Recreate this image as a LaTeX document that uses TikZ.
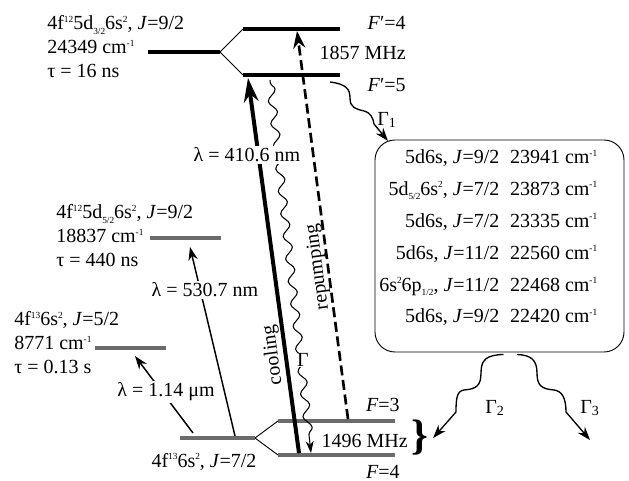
\documentclass[tikz,border=0pt]{standalone}
\usepackage{fontspec}
\setmainfont{Liberation Serif}
\usepackage{xcolor}
\usepackage{tikz}
\usetikzlibrary{positioning,arrows.meta,decorations.pathmorphing}

\definecolor{levelgray}{gray}{0.42}
\newcommand{\upi}[1]{\raisebox{0.85ex}{\fontsize{7}{7}\selectfont #1}}
\newcommand{\dni}[1]{\raisebox{-0.45ex}{\fontsize{7}{7}\selectfont #1}}

\begin{document}
\begin{tikzpicture}[
  x=0.75pt, y=-0.75pt,
  font=\fontsize{15}{18}\selectfont,
  blacklevel/.style={line width=3pt},
  graylevel/.style={line width=2.4pt, levelgray},
  split/.style={line width=0.7pt},
  levellabel/.style={anchor=west, align=left, inner sep=0pt},
  flabel/.style={anchor=east, inner sep=0pt},
  laser/.style={line width=1.1pt, -{Stealth[length=10pt,width=7pt]}},
  decay/.style={line width=1pt, -{Stealth[length=10pt,width=7pt]}},
  onarrow/.style={fill=white, inner sep=1.5pt},
  statebox/.style={draw, rounded corners=15pt, line width=0.7pt, minimum width=186.75pt, minimum height=159pt, inner sep=0pt}
  ]
  \useasboundingbox (0,0) rectangle (629,481);
  % levels
  \coordinate (e-l) at (148,52);   \coordinate (e-r) at (220,52);
  \coordinate (f4u-l) at (243,29); \coordinate (f4u-r) at (340,29);
  \coordinate (f5u-l) at (243,75); \coordinate (f5u-r) at (340,75);
  \coordinate (m-l) at (150,238);  \coordinate (m-r) at (221,238);
  \coordinate (c-l) at (95,348);   \coordinate (c-r) at (166,348);
  \coordinate (g-l) at (180,438);  \coordinate (g-r) at (255,438);
  \coordinate (f3-l) at (278,421); \coordinate (f3-r) at (395,421);
  \coordinate (f4-l) at (278,455); \coordinate (f4-r) at (395,455);
  \draw[blacklevel] (e-l) -- (e-r);
  \draw[split] (e-r) -- (f4u-l) (e-r) -- (f5u-l);
  \draw[blacklevel] (f4u-l) -- (f4u-r);
  \draw[blacklevel] (f5u-l) -- (f5u-r);
  \draw[graylevel] (m-l) -- (m-r);
  \draw[graylevel] (c-l) -- (c-r);
  \draw[graylevel] (g-l) -- (g-r);
  \draw[split] (g-r) -- (f3-l) (g-r) -- (f4-l);
  \draw[graylevel] (f3-l) -- (f3-r);
  \draw[graylevel] (f4-l) -- (f4-r);

  \node[levellabel] (exc-lab) at (47,47) {4f\upi{12}5d\dni{3/2}6s\upi{2}, \textit{J}=9/2\\24349 cm\upi{-1}\\τ = 16 ns};
  \node[levellabel] (mid-lab) at (56,236) {4f\upi{12}5d\dni{5/2}6s\upi{2}, \textit{J}=9/2\\18837 cm\upi{-1}\\τ = 440 ns};
  \node[levellabel] (clk-lab) at (14,343) {4f\upi{13}6s\upi{2}, \textit{J}=5/2\\8771 cm\upi{-1}\\τ = 0.13 s};
  \node (gnd-lab) at (204,462) {4f\upi{13}6s\upi{2}, \textit{J}=7/2};

  \node[flabel] (f4u-lab) at (406,23) {\textit{F}′=4};
  \node[flabel] (hfs-up) at (406,53) {1857 MHz};
  \node[flabel] (f5u-lab) at (406,85) {\textit{F}′=5};
  \node[flabel] (f3-lab) at (400,405) {\textit{F}=3};
  \node[flabel] (hfs-lo) at (408,441) {1496 MHz};
  \node[flabel] (f4-lab) at (400,472) {\textit{F}=4};
  \node[font=\fontsize{32}{32}\selectfont\bfseries] (hfs) at (420,438) {\}};

  % transitions
  \coordinate (cool-lo) at (299,453); \coordinate (cool-hi) at (248,78);
  \coordinate (rep-lo) at (348,419);  \coordinate (rep-hi) at (297,31);
  \coordinate (sp-hi) at (270,80);    \coordinate (sp-lo) at (311,453);
  \coordinate (g530-lo) at (235,436); \coordinate (g530-hi) at (190,247);
  \coordinate (g114-lo) at (193,433); \coordinate (g114-hi) at (135,356);
  \draw[line width=3pt, -{Stealth[length=18pt,width=11pt]}] (cool-lo) -- (cool-hi);
  \draw[line width=2pt, dash pattern=on 7.5pt off 3.5pt, -{Stealth[length=13pt,width=9pt]}] (rep-lo) -- (rep-hi);
  \draw[line width=0.8pt, decorate, decoration={snake, amplitude=3pt, segment length=17pt, pre length=2pt, post length=9pt}, -{Stealth[length=9pt,width=6pt]}] (sp-hi) -- (sp-lo);
  \draw[laser] (g530-lo) -- (g530-hi);
  \draw[laser] (g114-lo) -- (g114-hi);
  \node[onarrow] (l410) at (247,155) {λ = 410.6 nm};
  \node[onarrow] (l530) at (205,290) {λ = 530.7 nm};
  \node[onarrow] (l114) at (166,392) {λ = 1.14 μm};
  \node[onarrow, inner sep=0.5pt] (gam) at (303,360) {Γ};
  \node[rotate=97.5, inner sep=0pt] (cool-lab) at (273,355) {cooling};
  \node[rotate=97.5, inner sep=0pt] (rep-lab) at (318,267) {repumping};

  % decay channels
  \node[statebox] (decay) at (499.5,246) {};
  \node[anchor=west, inner sep=0pt, font=\fontsize{15}{23.85}\selectfont] (states) at (379,237) {\begin{tabular}{@{}r@{\hspace{8pt}}l@{}}
    5d6s, \textit{J}=9/2 & 23941 cm\upi{-1}\\
    5d\dni{5/2}6s\upi{2}, \textit{J}=7/2 & 23873 cm\upi{-1}\\
    5d6s, \textit{J}=7/2 & 23335 cm\upi{-1}\\
    5d6s, \textit{J}=11/2 & 22560 cm\upi{-1}\\
    6s\upi{2}6p\dni{1/2}, \textit{J}=11/2 & 22468 cm\upi{-1}\\
    5d6s, \textit{J}=9/2 & 22420 cm\upi{-1}
  \end{tabular}};
  \coordinate (g1s) at (330,82);  \coordinate (g1e) at (388,141);
  \coordinate (g2s) at ([xshift=3pt,yshift=-1.5pt]decay.south);
  \coordinate (g3s) at ([xshift=13pt,yshift=-1.5pt]decay.south);
  \coordinate (g3e) at (590,440);
  \draw[decay] (g1s) .. controls (346,84) and (350,89) .. (350,98) .. controls (350,108) and (356,109) .. (364,111) .. controls (371,113) and (373,118) .. (374,124) -- (g1e);
  \draw[decay] (g2s) .. controls (486,355) and (481,360) .. (481,373) .. controls (481,386) and (476,389) .. (464,390) .. controls (457,391) and (456,398) .. (456,412) -- (hfs.east);
  \draw[decay] (g3s) .. controls (531,355) and (537,360) .. (537,373) .. controls (537,386) and (542,389) .. (554,390) .. controls (562,391) and (566,398) .. (566,412) -- (g3e);
  \node (g1-lab) at (387,120) {Γ\textsubscript{1}};
  \node (g2-lab) at (495,408) {Γ\textsubscript{2}};
  \node (g3-lab) at (590,408) {Γ\textsubscript{3}};
\end{tikzpicture}
\end{document}
